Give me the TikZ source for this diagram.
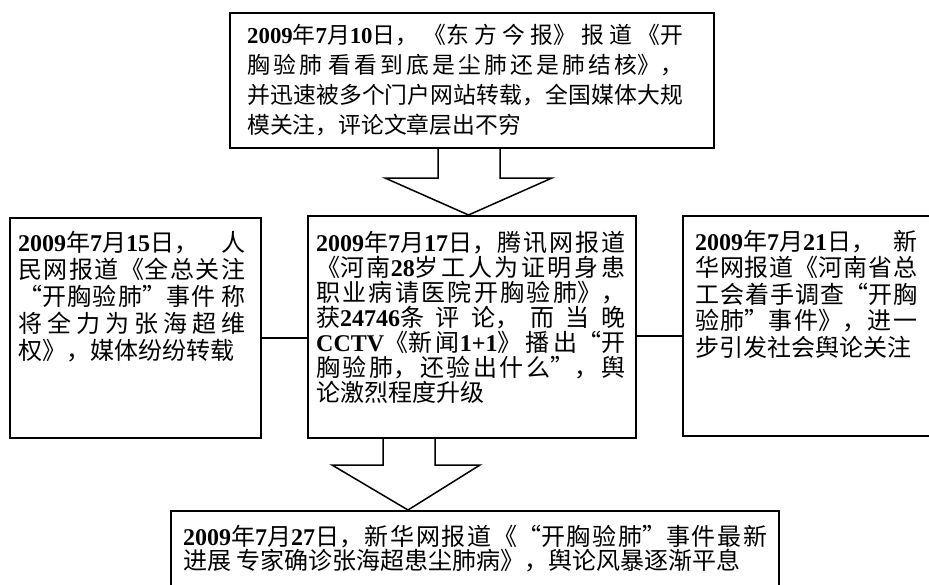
\documentclass[tikz,border=0pt]{standalone}
\usepackage{fontspec}
\setmainfont{Noto Sans CJK SC}
\newfontfamily\dig{Liberation Serif}
\XeTeXlinebreaklocale "zh"
\XeTeXlinebreakskip=0pt plus 10pt minus 0.5pt
\setlength\parindent{0pt}
\tolerance=10000
\newcommand\DG[1]{{\dig\bfseries #1}}
\newcommand\QL{{\addfontfeatures{RawFeature=+fwid}“}}
\newcommand\QR{{\addfontfeatures{RawFeature=+fwid}”}}
\begin{document}
\begin{tikzpicture}[x=1pt,y=1pt,
  box/.style={draw, line width=1.8pt, anchor=north west, inner sep=0pt},
  txt/.style={anchor=north west, inner sep=0pt, align=justify},
  blk/.style={draw, line width=1.5pt, line join=miter},
  link/.style={draw, line width=1.5pt}]
\clip (0,0) rectangle (929,-584);
% boxes
\node[box, minimum width=484pt, minimum height=135pt] (top) at (229,-12) {};
\node[box, minimum width=251pt, minimum height=220pt] (left) at (9,-217) {};
\node[box, minimum width=328pt, minimum height=222pt] (center) at (307,-215) {};
\node[box, minimum width=253pt, minimum height=220pt] (right) at (682,-215) {};
\node[box, minimum width=608pt, minimum height=100pt] (bottom) at (170,-510) {};
% texts
\node[txt, text width=436pt, font=\fontsize{22.8}{30}\selectfont] (ttop) at (247,-24) {\DG{2009}年\DG{7}月\DG{10}日，《东方今报》报道《开\linebreak 胸验肺 看看到底是尘肺还是肺结核》，\linebreak 并迅速被多个门户网站转载，全国媒体大规\linebreak 模关注，评论文章层出不穷};
\node[txt, text width=227pt, font=\fontsize{24}{27}\selectfont] (tleft) at (18,-231) {\DG{2009}年\DG{7}月\DG{15}日，人\linebreak 民网报道《全总关注\linebreak \QL 开胸验肺\QR 事件 称\linebreak 将全力为张海超维\linebreak 权》，媒体纷纷转载};
\node[txt, text width=309pt, font=\fontsize{24}{25}\selectfont] (tcenter) at (316,-231) {\DG{2009}年\DG{7}月\DG{17}日，腾讯网报道\linebreak 《河南\DG{28}岁工人为证明身患\linebreak 职业病请医院开胸验肺》，\linebreak 获\DG{24746}条评论，而当晚\linebreak \DG{CCTV}《新闻\DG{1+1}》播出\QL 开\linebreak 胸验肺，还验出什么\QR ，舆\linebreak 论激烈程度升级};
\node[txt, text width=222pt, font=\fontsize{24}{26.5}\selectfont] (tright) at (695,-230) {\DG{2009}年\DG{7}月\DG{21}日，新\linebreak 华网报道《河南省总\linebreak 工会着手调查\QL 开胸\linebreak 验肺\QR 事件》，进一\linebreak 步引发社会舆论关注};
\node[txt, text width=584pt, font=\fontsize{24}{24}\selectfont] (tbottom) at (183,-525) {\DG{2009}年\DG{7}月\DG{27}日，新华网报道《\QL 开胸验肺\QR 事件最新\linebreak 进展 专家确诊张海超患尘肺病》，舆论风暴逐渐平息};
% block arrows
\coordinate (a1l) at (438,0); \coordinate (a1r) at (500,0); \coordinate (a1t) at (468.5,0);
\draw[blk] (a1l |- top.south) -- (438,-178) -- (385,-178) -- (a1t |- center.north) -- (552,-178) -- (500,-178) -- (a1r |- top.south);
\coordinate (a2l) at (383,0); \coordinate (a2r) at (435,0); \coordinate (a2t) at (408,0);
\draw[blk] (a2l |- center.south) -- (383,-465) -- (332,-465) -- (a2t |- bottom.north) -- (480,-465) -- (435,-465) -- (a2r |- center.south);
% connectors
\coordinate (yL) at (0,-338); \coordinate (yR) at (0,-336);
\draw[link] (left.east |- yL) -- (center.west |- yL);
\draw[link] (center.east |- yR) -- (right.west |- yR);
\end{tikzpicture}
\end{document}
